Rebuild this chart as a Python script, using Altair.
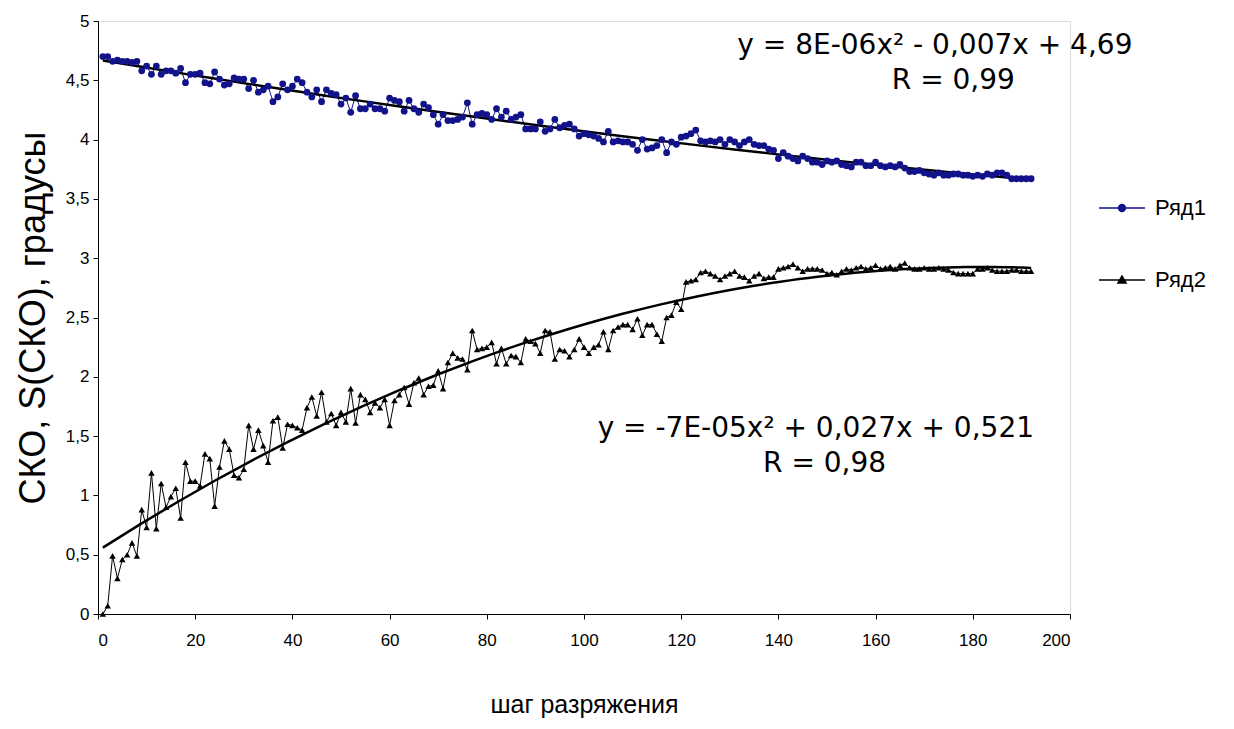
import altair as alt
import pandas as pd

series_names = ["Ряд1", "Ряд2"]
series_colors = ["#12128a", "#000000"]

x_vals = list(range(1, 193))

ryad1 = [
    4.70, 4.70, 4.66, 4.67, 4.66, 4.66, 4.65, 4.66, 4.58, 4.62,
    4.55, 4.62, 4.55, 4.58, 4.58, 4.56, 4.60, 4.48, 4.55, 4.55,
    4.56, 4.48, 4.47, 4.57, 4.51, 4.46, 4.47, 4.52, 4.51, 4.51,
    4.43, 4.50, 4.40, 4.42, 4.45, 4.32, 4.36, 4.47, 4.42, 4.45,
    4.51, 4.48, 4.40, 4.36, 4.42, 4.32, 4.42,
    4.39, 4.38, 4.30, 4.35, 4.23, 4.37, 4.26, 4.26, 4.30, 4.26,
    4.26, 4.24, 4.35, 4.33, 4.32, 4.24, 4.33, 4.26, 4.23, 4.30,
    4.27, 4.21, 4.13, 4.21, 4.16, 4.16, 4.17, 4.19, 4.31, 4.13,
    4.21, 4.22, 4.21, 4.17, 4.26, 4.19, 4.24, 4.17, 4.19, 4.21,
    4.09, 4.09, 4.09, 4.15, 4.07, 4.09, 4.17, 4.10, 4.12,
    4.13, 4.09, 4.03, 4.05, 4.04, 4.03, 4.01, 3.98, 4.07, 3.98,
    3.99, 3.98, 3.98, 3.96, 3.91, 4.00, 3.92, 3.93, 3.95, 4.00,
    3.89, 3.98, 3.96, 4.02, 4.03, 4.05, 4.08, 3.99, 3.98, 3.99,
    3.98, 4.00, 3.96, 4.00, 3.98, 3.95, 3.98, 4.00, 3.96, 3.95,
    3.95, 3.92, 3.91, 3.84, 3.89, 3.86, 3.84, 3.82, 3.86, 3.84,
    3.81, 3.81, 3.79, 3.82, 3.81, 3.82, 3.79, 3.78, 3.77, 3.81,
    3.81, 3.78, 3.78, 3.81, 3.78, 3.77, 3.78, 3.77, 3.79, 3.76,
    3.73, 3.73, 3.74, 3.72, 3.71, 3.70, 3.72, 3.70, 3.70, 3.71,
    3.71, 3.70, 3.70, 3.69, 3.70, 3.69, 3.71, 3.70, 3.72, 3.72,
    3.70, 3.67, 3.67, 3.67, 3.67, 3.67,
]

ryad2 = [
    0.00, 0.07, 0.49, 0.30, 0.46, 0.50, 0.60, 0.49, 0.88, 0.73,
    1.19, 0.72, 1.10, 0.90, 0.99, 1.06, 0.81, 1.28, 1.12, 1.12,
    1.08, 1.35, 1.31, 0.91, 1.24, 1.46, 1.39, 1.17, 1.15, 1.22,
    1.59, 1.39, 1.55, 1.42, 1.28, 1.63, 1.66, 1.40, 1.60, 1.59,
    1.57, 1.55, 1.74, 1.83, 1.67, 1.87, 1.62, 1.69, 1.59, 1.70,
    1.62, 1.90, 1.61, 1.85, 1.81, 1.70, 1.78, 1.74, 1.81, 1.59,
    1.80, 1.85, 1.91, 1.77, 1.95, 1.99, 1.85, 1.92, 1.93, 2.05,
    1.90, 2.12, 2.20, 2.16, 2.15, 2.06, 2.39, 2.23, 2.24, 2.25,
    2.29, 2.11, 2.24, 2.11, 2.18, 2.17, 2.12, 2.32, 2.30, 2.28,
    2.20, 2.39, 2.38, 2.15, 2.23, 2.22, 2.17, 2.23, 2.32, 2.25,
    2.20, 2.25, 2.27, 2.38, 2.23, 2.39, 2.42, 2.44, 2.44, 2.40,
    2.49, 2.35, 2.44, 2.44, 2.36, 2.30, 2.50, 2.52, 2.63, 2.57,
    2.80, 2.81, 2.82, 2.88, 2.89, 2.87, 2.85, 2.82, 2.85, 2.87,
    2.89, 2.85, 2.84, 2.81, 2.85, 2.87, 2.83, 2.84, 2.84, 2.91,
    2.92, 2.93, 2.95, 2.92, 2.89, 2.91, 2.91, 2.91, 2.90, 2.87,
    2.88, 2.86, 2.89, 2.91, 2.90, 2.92, 2.93, 2.91, 2.92, 2.94,
    2.91, 2.92, 2.93, 2.91, 2.94, 2.96, 2.92, 2.91, 2.91, 2.92,
    2.91, 2.91, 2.92, 2.91, 2.90, 2.88, 2.87, 2.87, 2.87, 2.87,
    2.91, 2.91, 2.92, 2.90, 2.89, 2.89, 2.89, 2.90, 2.90, 2.89,
    2.89, 2.89,
]

x_ticks = list(range(0, 201, 20))
y_ticks = [0, 0.5, 1, 1.5, 2, 2.5, 3, 3.5, 4, 4.5, 5]

ann_labels = ["y = 8E-06x² - 0,007x + 4,69", "R = 0,99",
              "y = -7E-05x² + 0,027x + 0,521", "R = 0,98"]
ann_x = [172.2, 176.0, 147.7, 149.5]
ann_y = [4.79, 4.49, 1.56, 1.265]

FONT = "Liberation Sans"
ANN_FONT = "DejaVu Sans"

df = pd.DataFrame({
    "x": x_vals * 2,
    "y": ryad1 + ryad2,
    "series": [series_names[0]] * len(ryad1) + [series_names[1]] * len(ryad2),
})
ann = pd.DataFrame({"x": ann_x, "y": ann_y, "label": ann_labels})

xenc = alt.X("x:Q", scale=alt.Scale(domain=[0, 200], nice=False),
             axis=alt.Axis(values=x_ticks, title="шаг разряжения", grid=False,
                           tickSize=5, labelFontSize=17, titleFontSize=25,
                           titlePadding=44, labelPadding=13, labelFont=FONT,
                           titleFont=FONT, titleFontWeight="normal",
                           domainColor="black", tickColor="black",
                           labelColor="black", titleColor="black"))
yenc = alt.Y("y:Q", scale=alt.Scale(domain=[0, 5], nice=False),
             axis=alt.Axis(values=y_ticks, title="СКО, S(СКО), градусы", grid=False,
                           tickSize=5, labelFontSize=17, titleFontSize=36,
                           titlePadding=13, labelPadding=4, labelFont=FONT,
                           titleFont=FONT, titleFontWeight="normal",
                           labelExpr="replace(format(datum.value, '.1~f'), '.', ',')",
                           domainColor="black", tickColor="black",
                           labelColor="black", titleColor="black"))

base = alt.Chart(df)

line1 = base.transform_filter(alt.datum.series == series_names[0]).mark_line(
    color=series_colors[0], strokeWidth=1).encode(x=xenc, y=yenc)
pts1 = base.transform_filter(alt.datum.series == series_names[0]).mark_point(
    filled=True, shape="circle", size=46, color=series_colors[0], opacity=1).encode(x="x:Q", y="y:Q")
line2 = base.transform_filter(alt.datum.series == series_names[1]).mark_line(
    color=series_colors[1], strokeWidth=1).encode(x="x:Q", y="y:Q")
pts2 = base.transform_filter(alt.datum.series == series_names[1]).mark_point(
    filled=True, shape="triangle-up", size=42, color=series_colors[1], opacity=1).encode(x="x:Q", y="y:Q")

trend1 = base.transform_filter(alt.datum.series == series_names[0]).transform_regression(
    "x", "y", method="poly", order=2).mark_line(color="black", strokeWidth=2.5).encode(x="x:Q", y="y:Q")
trend2 = base.transform_filter(alt.datum.series == series_names[1]).transform_regression(
    "x", "y", method="poly", order=2).mark_line(color="black", strokeWidth=2.5).encode(x="x:Q", y="y:Q")

path1 = "M-2.3,0H2.3M0.35,0A0.35,0.35,0,1,1,-0.35,0A0.35,0.35,0,1,1,0.35,0Z"
path2 = "M-2.3,0H2.3M0,-0.42L0.42,0.3L-0.42,0.3Z"

leg = alt.Legend(title=None, orient="none", legendX=1013, legendY=176,
                 symbolSize=400, symbolStrokeWidth=1.3, labelFontSize=22,
                 labelFont=FONT, labelColor="black", labelOffset=22,
                 rowPadding=50, padding=0)

legend_layer = base.transform_filter("datum.x < 0").mark_point(filled=True, opacity=1).encode(
    x="x:Q", y="y:Q",
    color=alt.Color("series:N", scale=alt.Scale(domain=series_names, range=series_colors), legend=leg),
    stroke=alt.Stroke("series:N", scale=alt.Scale(domain=series_names, range=series_colors), legend=leg),
    shape=alt.Shape("series:N", scale=alt.Scale(domain=series_names, range=[path1, path2]), legend=leg),
)

texts = alt.Chart(ann).mark_text(fontSize=28, font=ANN_FONT, color="black", align="center",
                                 baseline="middle").encode(x="x:Q", y="y:Q", text="label:N")

chart = alt.layer(line1, line2, trend1, trend2, pts1, pts2, legend_layer, texts).properties(
    width=972, height=593,
    autosize=alt.AutoSizeParams(type="none"),
    padding={"left": 90, "top": 13, "right": 150, "bottom": 105},
).configure_view(stroke=None).configure(background="white")

chart.save("out.html", embed_options={"renderer": "svg", "actions": False})
